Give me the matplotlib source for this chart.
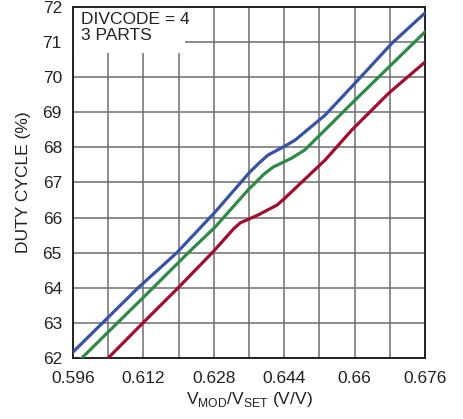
import numpy as np
import matplotlib
matplotlib.use('Agg')
import matplotlib.pyplot as plt
from matplotlib.patches import Rectangle

plt.rcParams['font.family'] = ['Liberation Sans', 'DejaVu Sans']
plt.rcParams['mathtext.fontset'] = 'custom'
plt.rcParams['mathtext.rm'] = 'Liberation Sans'

# ---------------- data ----------------
blue_x = [0.596, 0.6108, 0.6196, 0.6283, 0.6362, 0.6385, 0.6403, 0.6442, 0.6465, 0.6533, 0.6601, 0.6685, 0.676]
blue_y = [62.17, 64.0, 65.0, 66.16, 67.30, 67.58, 67.78, 68.04, 68.21, 68.92, 69.83, 70.97, 71.83]

green_x = [0.598, 0.6142, 0.6222, 0.6283, 0.6358, 0.6395, 0.6415, 0.6458, 0.6487, 0.6533, 0.6594, 0.6678, 0.676]
green_y = [62.0, 64.0, 65.0, 65.73, 66.79, 67.25, 67.44, 67.70, 67.93, 68.50, 69.26, 70.29, 71.29]

red_x = [0.604, 0.6119, 0.6199, 0.6278, 0.6325, 0.634, 0.638, 0.6424, 0.6442, 0.6533, 0.6594, 0.6678, 0.676]
red_y = [62.0, 63.0, 64.0, 65.02, 65.68, 65.85, 66.07, 66.36, 66.56, 67.64, 68.50, 69.55, 70.43]

xticks = [0.596, 0.612, 0.628, 0.644, 0.66, 0.676]
xticklabels = ['0.596', '0.612', '0.628', '0.644', '0.66', '0.676']
yticks = list(range(62, 73))

fig = plt.figure(figsize=(4.64, 4.19), dpi=100)
ax = fig.add_axes([73/464, 61/419, 352/464, 351/419])

ax.plot(red_x, red_y, color='#A30D2E', lw=2.3, zorder=3, solid_joinstyle='round')
ax.plot(green_x, green_y, color='#2E8A47', lw=2.3, zorder=3, solid_joinstyle='round')
ax.plot(blue_x, blue_y, color='#3853A3', lw=2.3, zorder=3, solid_joinstyle='round')

ax.set_xlim(0.596, 0.676)
ax.set_ylim(62, 72)
ax.set_xticks(xticks)
ax.set_xticklabels(xticklabels)
ax.set_xticks(np.arange(0.596, 0.6761, 0.008), minor=True)
ax.set_yticks(yticks)
ax.tick_params(which='both', length=0, labelsize=12.5, colors='#222222')
ax.tick_params(axis='x', pad=9)
ax.tick_params(axis='y', pad=8)
ax.set_axisbelow(True)
ax.grid(which='both', color='#6e6e6e', lw=1.1)
for s in ax.spines.values():
    s.set_linewidth(1.4)
    s.set_color('#222222')

# white label box covering the grid at top left
box_h = (53 - 7) / 351
ax.add_patch(Rectangle((0, 1 - box_h), (185 - 73) / 352, box_h, transform=ax.transAxes,
                       facecolor='white', edgecolor='none', zorder=2))
ax.text(0.024, 0.985, 'DIVCODE = 4\n3 PARTS', transform=ax.transAxes, va='top', ha='left',
        fontsize=12.5, color='#222222', linespacing=1.1, zorder=4)

ax.set_xlabel(r'V$_{\mathrm{MOD}}$/V$_{\mathrm{SET}}$ (V/V)', fontsize=12.5, color='#222222', labelpad=3)
ax.set_ylabel('DUTY CYCLE (%)', fontsize=12.5, color='#222222', labelpad=8)

fig.savefig('out.png', dpi=100)
